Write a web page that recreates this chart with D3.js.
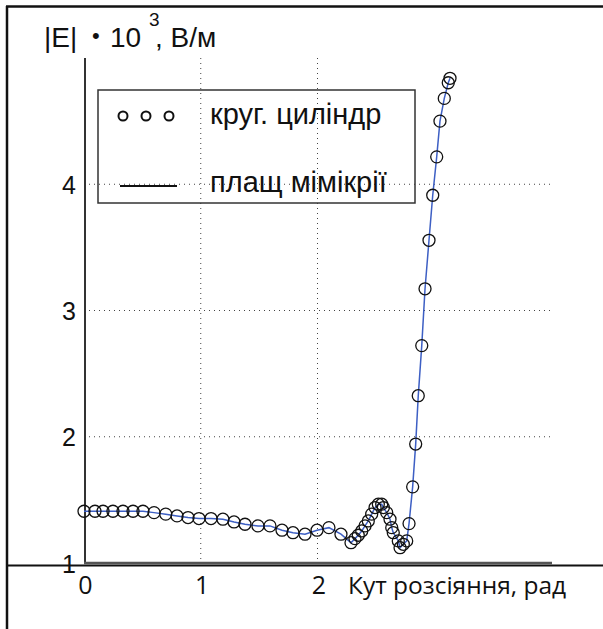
<!DOCTYPE html>
<html>
<head>
<meta charset="utf-8">
<script src="https://cdn.jsdelivr.net/npm/d3@7"></script>
<style>
    body { margin: 0; background: #fff; }
    svg { display: block; }
</style>
</head>
<body>
<svg id="chart" width="603" height="629"></svg>
<script>
// кут розсіяння, рад
var angle = [0, 0.094, 0.163, 0.248, 0.334, 0.42, 0.505, 0.60, 0.70, 0.797, 0.891, 0.985,
    1.088, 1.19, 1.285, 1.379, 1.49, 1.593, 1.696, 1.79, 1.893, 1.996, 2.098, 2.201,
    2.287, 2.321, 2.349, 2.379, 2.407, 2.435, 2.464, 2.493, 2.521, 2.55, 2.564, 2.593,
    2.621, 2.636, 2.649, 2.692, 2.707, 2.735, 2.764, 2.784, 2.815, 2.841, 2.863, 2.893,
    2.921, 2.955, 2.987, 3.021, 3.049, 3.086, 3.12, 3.135];
// |E| * 10^3, В/м
var field = [1.41, 1.41, 1.41, 1.41, 1.41, 1.41, 1.41, 1.399, 1.387, 1.373, 1.36, 1.352,
    1.352, 1.347, 1.325, 1.307, 1.294, 1.294, 1.26, 1.24, 1.228, 1.26, 1.28, 1.228,
    1.161, 1.193, 1.22, 1.254, 1.294, 1.333, 1.387, 1.439, 1.466, 1.466, 1.439, 1.399,
    1.347, 1.28, 1.24, 1.175, 1.121, 1.148, 1.175, 1.312, 1.603, 1.942, 2.325, 2.722,
    3.172, 3.556, 3.913, 4.217, 4.5, 4.68, 4.804, 4.839];
var xTicks = [0, 1, 2];
var yTicks = [1, 2, 3, 4];
var xGrid = [1, 2];
var yGrid = [2, 3, 4];
var legendNames = ["круг. циліндр", "плащ мімікрії"];

(function () {
    var points = angle.map(function (d, i) { return [d, field[i]]; });

    var svg = d3.select("#chart");
    var pLeft = 84, pRight = 551, pTop = 58, pBottom = 563;

    var x = d3.scaleLinear().domain([0, 4]).range([pLeft, pRight]);
    var y = d3.scaleLinear().domain([1, 5]).range([pBottom, pTop]);

    // рамка
    svg.append("line").attr("x1", 6).attr("x2", 603).attr("y1", 6.5).attr("y2", 6.5)
        .style("stroke", "#111").style("stroke-width", 2.5);
    svg.append("line").attr("x1", 7).attr("x2", 7).attr("y1", 6).attr("y2", 629)
        .style("stroke", "#111").style("stroke-width", 2.5);

    // сітка
    svg.append("g").selectAll("line").data(xGrid).enter()
        .append("line")
        .attr("x1", function (d) { return x(d); })
        .attr("x2", function (d) { return x(d); })
        .attr("y1", pTop).attr("y2", pBottom)
        .style("stroke", "#444").style("stroke-width", 1)
        .style("stroke-dasharray", "1,4");
    svg.append("g").selectAll("line").data(yGrid).enter()
        .append("line")
        .attr("x1", pLeft).attr("x2", pRight)
        .attr("y1", function (d) { return y(d); })
        .attr("y2", function (d) { return y(d); })
        .style("stroke", "#444").style("stroke-width", 1)
        .style("stroke-dasharray", "1,4");

    // осі
    svg.append("line").attr("x1", pLeft + 1).attr("x2", pLeft + 1).attr("y1", pTop).attr("y2", pBottom)
        .style("stroke", "#333").style("stroke-width", 2);
    svg.append("line").attr("x1", pLeft).attr("x2", pRight + 1).attr("y1", pBottom).attr("y2", pBottom)
        .style("stroke", "#555").style("stroke-width", 2.5);
    svg.append("line").attr("x1", 6).attr("x2", 603).attr("y1", 565.5).attr("y2", 565.5)
        .style("stroke", "#111").style("stroke-width", 2);

    var yAxis = svg.append("g")
        .attr("transform", "translate(" + (pLeft - 8) + ",0)")
        .call(d3.axisLeft(y).tickValues(yTicks).tickSize(0).tickPadding(0).tickFormat(d3.format("d")));
    yAxis.select(".domain").remove();
    yAxis.selectAll("text")
        .attr("font-family", "Liberation Sans, Arial, sans-serif")
        .attr("font-size", "25px")
        .attr("dy", "0.36em")
        .style("fill", "#111");

    var xAxis = svg.append("g")
        .attr("transform", "translate(1," + 576 + ")")
        .call(d3.axisBottom(x).tickValues(xTicks).tickSize(0).tickPadding(0).tickFormat(d3.format("d")));
    xAxis.select(".domain").remove();
    xAxis.selectAll("text")
        .attr("font-family", "Open Sans, sans-serif")
        .attr("font-size", "25px")
        .attr("dy", "0.72em")
        .style("fill", "#111");

    svg.append("text")
        .attr("x", 348).attr("y", 594)
        .attr("font-family", "Open Sans, sans-serif")
        .attr("font-size", "24.5px")
        .style("fill", "#111")
        .text("Кут розсіяння, рад");

    // підпис осі y
    var ylab = svg.append("text")
        .attr("y", 47)
        .attr("font-family", "Liberation Sans, Arial, sans-serif")
        .attr("font-size", "28px")
        .style("fill", "#111");
    ylab.append("tspan").attr("x", 44).text("|E|");
    ylab.append("tspan").attr("x", 92).attr("font-size", "22px").attr("dy", -4).text("•");
    ylab.append("tspan").attr("x", 110).attr("dy", 4).text("10");
    ylab.append("tspan").attr("x", 149).attr("font-size", "19px").attr("dy", -21).text("3");
    ylab.append("tspan").attr("x", 155).attr("dy", 21).text(", В/м");

    // лінія
    svg.append("path")
        .datum(points)
        .attr("d", d3.line().x(function (d) { return x(d[0]); }).y(function (d) { return y(d[1]); }))
        .style("fill", "none")
        .style("stroke", "#3d5fc4")
        .style("stroke-width", 1.5);

    // кружки
    svg.append("g").selectAll("circle").data(points).enter()
        .append("circle")
        .attr("cx", function (d) { return x(d[0]); })
        .attr("cy", function (d) { return y(d[1]); })
        .attr("r", 6)
        .style("fill", "none")
        .style("stroke", "#111")
        .style("stroke-width", 1.3);

    // легенда
    var legend = svg.append("g");
    legend.append("rect")
        .attr("x", 98).attr("y", 90).attr("width", 317).attr("height", 113)
        .style("fill", "none").style("stroke", "#333").style("stroke-width", 1.5);
    legend.selectAll("circle").data([123, 146, 169]).enter()
        .append("circle")
        .attr("cx", function (d) { return d; })
        .attr("cy", 116)
        .attr("r", 4.5)
        .style("fill", "none").style("stroke", "#111").style("stroke-width", 2);
    legend.append("line")
        .attr("x1", 120).attr("x2", 177).attr("y1", 186).attr("y2", 186)
        .style("stroke", "#111").style("stroke-width", 2);
    legend.selectAll("text").data(legendNames).enter()
        .append("text")
        .attr("x", 210)
        .attr("y", function (d, i) { return i === 0 ? 124 : 192; })
        .attr("font-family", "Liberation Sans, Arial, sans-serif")
        .attr("font-size", "29px")
        .style("fill", "#111")
        .text(function (d) { return d; });
})();
</script>
</body>
</html>
